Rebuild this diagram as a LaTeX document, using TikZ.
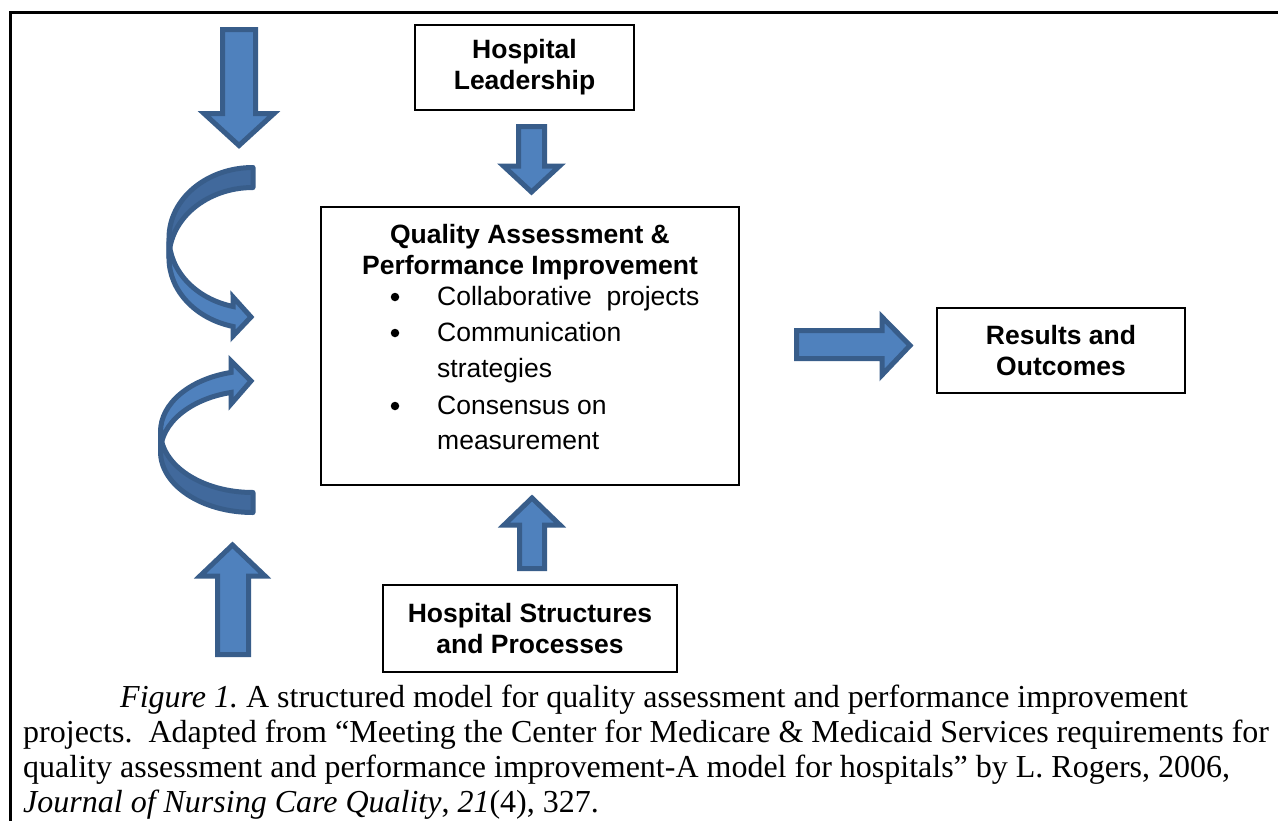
\documentclass[tikz,border=0pt]{standalone}
\usepackage{fontspec}
\setmainfont{Liberation Serif}
\newfontfamily\arialfont{Liberation Sans}
\definecolor{afill}{HTML}{4F81BD}
\definecolor{aline}{HTML}{385D8A}
\definecolor{aback}{HTML}{41699C}
\frenchspacing
\begin{document}
\begin{tikzpicture}[x=1pt,y=-1pt,
  box/.style={draw=black, line width=1.3pt, fill=white, inner sep=0pt, align=center,
    font=\arialfont\bfseries\fontsize{26.5}{31}\selectfont},
  boxtext/.style={inner sep=0pt, align=center, font=\arialfont\bfseries\fontsize{26.5}{31}\selectfont},
  bultext/.style={inner sep=0pt, anchor=base west, font=\arialfont\fontsize{26.5}{31}\selectfont},
  bulletdot/.style={circle, fill=black, inner sep=0pt, minimum size=8.5pt},
  barrow/.style={fill=afill, draw=aline, line width=5pt, line join=miter},
  cfront/.style={fill=afill, draw=aline, line width=5pt, line join=miter},
  cback/.style={fill=aback, draw=aline, line width=5pt, line join=round},
  captext/.style={inner sep=0pt, anchor=base west, font=\fontsize{32}{35}\selectfont}]
\useasboundingbox (0,0) rectangle (1278,820);
\fill[white] (0,0) rectangle (1278,820);
% outer frame
\draw[line width=3pt] (10,822) -- (10,12) -- (1280,12);

% boxes
\node[box, minimum width=219pt, minimum height=85pt] (lead) at (524.5,67.5) {Hospital\\Leadership};
\node[box, minimum width=418pt, minimum height=278pt] (qa) at (530,346) {};
\node[box, minimum width=294pt, minimum height=87pt] (struct) at (530,628.5) {Hospital Structures\\and Processes};
\node[box, minimum width=248pt, minimum height=85pt] (res) at (1061,350.5) {Results and\\Outcomes};

% QA box contents
\node[boxtext] (qat) at (530,252) {Quality Assessment \&\\Performance Improvement};
\node[bulletdot] (d1) at (395,297) {};
\node[bulletdot] (d2) at (395,333) {};
\node[bulletdot] (d3) at (395,406) {};
\node[bultext] (b1) at (437,305) {Collaborative\ \ projects};
\node[bultext] (b2) at (437,341) {Communication};
\node[bultext] (b2b) at (437,377) {strategies};
\node[bultext] (b3) at (437,414) {Consensus on};
\node[bultext] (b3b) at (437,449) {measurement};

% block arrows
\path[barrow] (222.5,29.5) -- (255.5,29.5) -- (255.5,113.5) -- (274,113.5) -- (239,145.5) -- (204,113.5) -- (222.5,113.5) -- cycle;
\path[barrow] (518.5,126.5) -- (544.5,126.5) -- (544.5,166) -- (559.5,166) -- (531.5,192) -- (503.5,166) -- (518.5,166) -- cycle;
\path[barrow] (519.5,568.5) -- (544.5,568.5) -- (544.5,525) -- (560,525) -- (532,498) -- (504,525) -- (519.5,525) -- cycle;
\path[barrow] (217.5,654.5) -- (248.5,654.5) -- (248.5,576) -- (265,576) -- (232.5,545) -- (200,576) -- (217.5,576) -- cycle;
\path[barrow] (796.5,330.5) -- (882,330.5) -- (882,317) -- (910,345.5) -- (882,375) -- (882,358.5) -- (796.5,358.5) -- cycle;

% upper curved arrow
\path[cback] (253,167.5) arc[start angle=270, end angle=180, x radius=84, y radius=70.5]
  -- (169,258) arc[start angle=180, end angle=270, x radius=84, y radius=70.5] -- cycle;
\path[cfront] (169,238) arc[start angle=180, end angle=103.77, x radius=84, y radius=70.5]
  -- (233,297) -- (251,317) -- (233,336) -- (233,326.47)
  arc[start angle=103.77, end angle=180, x radius=84, y radius=70.5] -- cycle;

% lower curved arrow
\path[cback] (253,492.5) arc[start angle=90, end angle=180, x radius=92.5, y radius=60.9]
  -- (160.5,451.6) arc[start angle=180, end angle=90, x radius=92.5, y radius=60.9] -- cycle;
\path[cfront] (160.5,431.6) arc[start angle=180, end angle=256.24, x radius=92.5, y radius=60.9]
  -- (231,361) -- (251,381) -- (231,404) -- (231,392.45)
  arc[start angle=256.24, end angle=180, x radius=92.5, y radius=60.9] -- cycle;

% caption
\node[captext] (c1) at (120,707) {\textit{Figure 1.} A structured model for quality assessment and performance improvement};
\node[captext] (c2) at (23,742) {projects.\ \ Adapted from “Meeting the Center for Medicare \& Medicaid Services requirements for};
\node[captext] (c3) at (23,777) {quality assessment and performance improvement-A model for hospitals” by L. Rogers, 2006,};
\node[captext] (c4) at (23,812) {\textit{Journal of Nursing Care Quality}, \textit{21}(4), 327.};
\end{tikzpicture}
\end{document}
